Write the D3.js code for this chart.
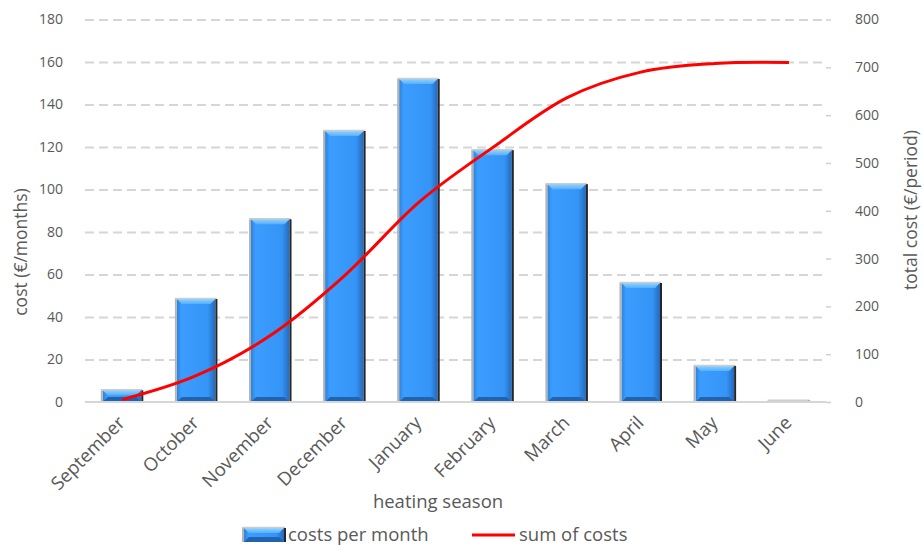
<!DOCTYPE html>
<html>
<head>
<meta charset="utf-8">
<script src="https://cdn.jsdelivr.net/npm/d3@7"></script>
<style>
  html, body { margin: 0; padding: 0; background: #fff; }
  svg text { font-family: "Open Sans", "Liberation Sans", sans-serif; fill: #595959; }
</style>
</head>
<body>
<div id="chart"></div>
<script>
// heating season: monthly cost (bars, left axis) + running total (line, right axis)
const MONTHS = ["September", "October", "November", "December", "January",
                "February", "March", "April", "May", "June"];
const COST_PER_MONTH = [5.5, 48.5, 86, 127.5, 152, 118.5, 102.5, 56, 17, 0.6];
const SUM_OF_COSTS   = [5, 55, 139, 264, 417, 532, 636, 690, 708, 710];
const LEFT_TICKS  = [0, 20, 40, 60, 80, 100, 120, 140, 160, 180];
const RIGHT_TICKS = [0, 100, 200, 300, 400, 500, 600, 700, 800];

const totalW = 924, totalH = 546;
const plot = { left: 85, right: 826, top: 19.5, bottom: 402 };

const svg = d3.select("#chart").append("svg")
  .attr("width", totalW).attr("height", totalH);

/* ── gradients for the bevelled bars ── */
const defs = svg.append("defs");
const body = defs.append("linearGradient").attr("id", "barBody")
  .attr("x1", 0).attr("x2", 1).attr("y1", 0).attr("y2", 0);
[["0%", "#2c82dc"], ["12%", "#3b9dff"], ["80%", "#3595f7"], ["100%", "#2469bb"]]
  .forEach(([o, c]) => body.append("stop").attr("offset", o).attr("stop-color", c));
const topG = defs.append("linearGradient").attr("id", "barTop")
  .attr("x1", 0).attr("x2", 0).attr("y1", 0).attr("y2", 1);
[["0%", "#8fd2ff"], ["100%", "#55b0ff"]]
  .forEach(([o, c]) => topG.append("stop").attr("offset", o).attr("stop-color", c));

/* ── scales ── */
const x = d3.scaleBand().domain(MONTHS).range([plot.left, plot.right])
  .paddingInner(0.48).paddingOuter(0.24);
const y = d3.scaleLinear().domain([0, 180]).range([plot.bottom, plot.top]);
const y2 = d3.scaleLinear().domain([0, 800]).range([plot.bottom, plot.top]);

/* ── grid ── */
svg.append("g")
  .attr("transform", `translate(${plot.left},0)`)
  .call(d3.axisLeft(y).tickValues(LEFT_TICKS.slice(1)).tickSize(-(plot.right - plot.left)).tickFormat(""))
  .call(ax => {
    ax.select(".domain").remove();
    ax.selectAll("line").attr("stroke", "#d6d6d6").attr("stroke-width", 2).attr("stroke-dasharray", "9 5");
  });

/* ── left axis labels ── */
svg.append("g")
  .attr("transform", `translate(${plot.left},0)`)
  .call(d3.axisLeft(y).tickValues(LEFT_TICKS).tickSize(0).tickPadding(22))
  .call(ax => {
    ax.select(".domain").remove();
    ax.selectAll("text").attr("font-size", 14).attr("fill", "#595959")
      .style("font-family", "'Open Sans', sans-serif");
  });

/* ── right axis ── */
svg.append("g")
  .attr("transform", `translate(${plot.right},0)`)
  .call(d3.axisRight(y2).tickValues(RIGHT_TICKS).tickSize(5).tickPadding(24))
  .call(ax => {
    ax.select(".domain").remove();
    ax.selectAll("line").attr("stroke", "#cfcfcf").attr("stroke-width", 1.5);
    ax.selectAll("text").attr("font-size", 14).attr("fill", "#595959")
      .attr("text-anchor", "start")
      .style("font-family", "'Open Sans', sans-serif");
  });

/* ── bars ── */
function drawBar(g, bx, by, bw, bh) {
  const b = Math.min(5, bh / 2, bw / 4);
  g.append("rect").attr("x", bx).attr("y", by).attr("width", bw).attr("height", bh)
    .attr("fill", "url(#barBody)");
  g.append("polygon")
    .attr("points", [[bx, by], [bx + bw, by], [bx + bw - b, by + b], [bx + b, by + b]].join(" "))
    .attr("fill", "url(#barTop)");
  g.append("polygon")
    .attr("points", [[bx, by + bh], [bx + bw, by + bh], [bx + bw - b, by + bh - b], [bx + b, by + bh - b]].join(" "))
    .attr("fill", "#2063b0");
  g.append("line").attr("x1", bx - 1).attr("x2", bx - 1).attr("y1", by).attr("y2", by + bh)
    .attr("stroke", "#b4b4b4").attr("stroke-width", 2);
  g.append("line").attr("x1", bx - 2).attr("x2", bx + bw + 1).attr("y1", by - 0.5).attr("y2", by - 0.5)
    .attr("stroke", "#cdcdcd").attr("stroke-width", 1.5);
  g.append("line").attr("x1", bx + bw + 1).attr("x2", bx + bw + 1).attr("y1", by).attr("y2", by + bh)
    .attr("stroke", "#262626").attr("stroke-width", 2);
}

const bars = svg.append("g");
MONTHS.forEach((m, i) => {
  const top = y(COST_PER_MONTH[i]);
  drawBar(bars.append("g"), x(m), top, x.bandwidth(), y(0) - top);
});

/* ── baseline ── */
svg.append("line")
  .attr("x1", plot.left).attr("x2", plot.right).attr("y1", y(0)).attr("y2", y(0))
  .attr("stroke", "#d6d6d6").attr("stroke-width", 2);

/* ── line ── */
const lineGen = d3.line()
  .x((d, i) => x(MONTHS[i]) + x.bandwidth() / 2)
  .y(d => y2(d))
  .curve(d3.curveCardinal.tension(0));

svg.append("path")
  .datum(SUM_OF_COSTS)
  .attr("fill", "none").attr("stroke", "#ff0000").attr("stroke-width", 3)
  .attr("d", lineGen);

/* ── x labels ── */
svg.append("g")
  .attr("transform", `translate(0,${plot.bottom})`)
  .call(d3.axisBottom(x).tickSize(0).tickPadding(0))
  .call(ax => {
    ax.select(".domain").remove();
    ax.selectAll("text")
      .attr("font-size", 18.5).attr("fill", "#595959")
      .style("font-family", "'Open Sans', sans-serif")
      .attr("text-anchor", "end")
      .attr("dy", 0).attr("y", 0)
      .attr("transform", "translate(4,22) rotate(-45)");
  });

/* ── axis titles ── */
svg.append("text").attr("x", 438).attr("y", 508).attr("text-anchor", "middle")
  .attr("font-size", 18.5).text("heating season");

svg.append("text").attr("transform", "translate(27,252) rotate(-90)")
  .attr("text-anchor", "middle").attr("font-size", 17.5).text("cost (€/months)");

svg.append("text").attr("transform", "translate(917,210) rotate(-90)")
  .attr("text-anchor", "middle").attr("font-size", 17.5).text("total cost (€/period)");

/* ── legend ── */
const legend = svg.append("g");
drawBar(legend.append("g"), 244, 528, 40, 14);
legend.append("text").attr("x", 288).attr("y", 541).attr("font-size", 18.5).text("costs per month");
legend.append("line").attr("x1", 472).attr("x2", 515).attr("y1", 535).attr("y2", 535)
  .attr("stroke", "#ff0000").attr("stroke-width", 3);
legend.append("text").attr("x", 519).attr("y", 541).attr("font-size", 18.5).text("sum of costs");
</script>
</body>
</html>
